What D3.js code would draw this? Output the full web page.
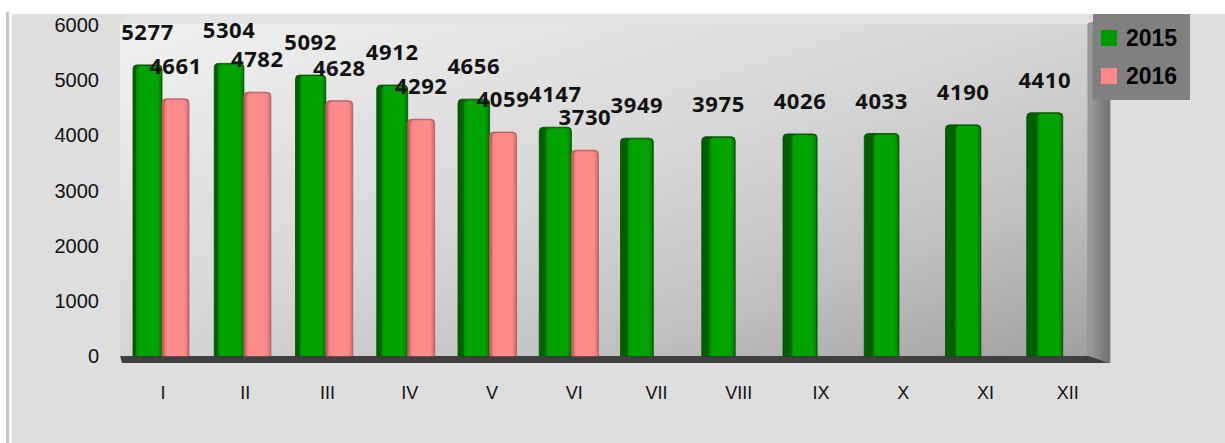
<!DOCTYPE html>
<html>
<head>
<meta charset="utf-8">
<script src="https://cdn.jsdelivr.net/npm/d3@7"></script>
<style>
  html, body { margin: 0; padding: 0; background: #ffffff; }
</style>
</head>
<body>
<div id="chart"></div>
<script>
// chart data
const months = ['I', 'II', 'III', 'IV', 'V', 'VI', 'VII', 'VIII', 'IX', 'X', 'XI', 'XII'];
const values2015 = [5277, 5304, 5092, 4912, 4656, 4147, 3949, 3975, 4026, 4033, 4190, 4410];
const values2016 = [4661, 4782, 4628, 4292, 4059, 3730];
const yTicks = [0, 1000, 2000, 3000, 4000, 5000, 6000];
const seriesNames = ['2015', '2016'];

const width = 1225;
const height = 443;
const wall = { left: 120, right: 1088, top: 24, bottom: 356 };
const depthX = 22, floorH = 7;

const svg = d3.select('#chart')
    .append('svg')
    .attr('width', width)
    .attr('height', height)
    .style('display', 'block');

const defs = svg.append('defs');

// background + frame
svg.append('rect').attr('width', width).attr('height', height).attr('fill', '#ffffff');
svg.append('rect')
    .attr('x', 12).attr('y', 14)
    .attr('width', width - 12).attr('height', height - 14)
    .attr('fill', '#dedede');
svg.append('rect')
    .attr('x', 6).attr('y', 12)
    .attr('width', 3).attr('height', height - 12)
    .attr('fill', '#c6c6c6');

// gradients
const wallGrad = defs.append('linearGradient').attr('id', 'wallGrad')
    .attr('x1', 0).attr('y1', 0).attr('x2', 1).attr('y2', 1);
wallGrad.append('stop').attr('offset', '0%').attr('stop-color', '#f2f2f2');
wallGrad.append('stop').attr('offset', '50%').attr('stop-color', '#d5d5d5');
wallGrad.append('stop').attr('offset', '75%').attr('stop-color', '#c0c0c0');
wallGrad.append('stop').attr('offset', '100%').attr('stop-color', '#a0a0a0');

const sideGrad = defs.append('linearGradient').attr('id', 'sideGrad')
    .attr('x1', 0).attr('y1', 0).attr('x2', 1).attr('y2', 0);
sideGrad.append('stop').attr('offset', '0%').attr('stop-color', '#a0a0a0');
sideGrad.append('stop').attr('offset', '100%').attr('stop-color', '#6e6e6e');

const makeFace = (id, edge, mid, right) => {
    const g = defs.append('linearGradient').attr('id', id)
        .attr('x1', 0).attr('y1', 0).attr('x2', 1).attr('y2', 0);
    g.append('stop').attr('offset', '0%').attr('stop-color', edge);
    g.append('stop').attr('offset', '12%').attr('stop-color', mid);
    g.append('stop').attr('offset', '85%').attr('stop-color', mid);
    g.append('stop').attr('offset', '100%').attr('stop-color', right);
};
makeFace('greenFace', '#008a00', '#00a300', '#008000');
makeFace('pinkFace', '#f07a7a', '#ff8a8a', '#d86c6c');

// 3D walls
svg.append('polygon')
    .attr('points', [[wall.left + 8, 14], [wall.right + depthX - 20, 14], [wall.right, wall.top], [wall.left, wall.top]].join(' '))
    .attr('fill', '#e4e4e4');
svg.append('rect')
    .attr('x', wall.left).attr('y', wall.top)
    .attr('width', wall.right - wall.left).attr('height', wall.bottom - wall.top)
    .attr('fill', 'url(#wallGrad)');
svg.append('polygon')
    .attr('points', [[wall.right, wall.top], [wall.right + depthX, 17], [wall.right + depthX, wall.bottom + floorH], [wall.right, wall.bottom]].join(' '))
    .attr('fill', 'url(#sideGrad)')
    .attr('stroke', '#8a8a8a')
    .attr('stroke-width', 1);
svg.append('polygon')
    .attr('points', [[wall.left, wall.bottom], [wall.right, wall.bottom], [wall.right + depthX, wall.bottom + floorH], [wall.left + 2, wall.bottom + floorH]].join(' '))
    .attr('fill', '#404040');

// scales
const x = d3.scaleBand()
    .domain(months)
    .range([122, 1109])
    .padding(0);

const y = d3.scaleLinear()
    .domain([0, 6000])
    .range([wall.bottom, 25]);

// perspective: side faces get wider to the right
const t = d3.scaleLinear().domain([0, months.length - 1]).range([0, 1]);

// y tick labels
svg.selectAll('.y-label')
    .data(yTicks)
    .enter()
    .append('text')
    .attr('class', 'y-label')
    .text(d => d)
    .attr('x', 99)
    .attr('y', d => y(d))
    .attr('text-anchor', 'end')
    .attr('dominant-baseline', 'central')
    .style('font-family', 'Liberation Sans, Arial, sans-serif')
    .style('font-size', '20px')
    .style('fill', '#111');

// category labels
svg.selectAll('.x-label')
    .data(months)
    .enter()
    .append('text')
    .attr('class', 'x-label')
    .text(d => d)
    .attr('x', d => x(d) + x.bandwidth() / 2)
    .attr('y', 393)
    .attr('text-anchor', 'middle')
    .attr('dominant-baseline', 'central')
    .style('font-family', 'Liberation Sans, Arial, sans-serif')
    .style('font-size', '18px')
    .style('fill', '#111');

const roundTop = (x0, y0, w, h, r) =>
    `M${x0},${y0 + h} L${x0},${y0 + r} Q${x0},${y0} ${x0 + r},${y0} L${x0 + w - r},${y0} Q${x0 + w},${y0} ${x0 + w},${y0 + r} L${x0 + w},${y0 + h} Z`;

// bar geometry
const bars = [];
months.forEach((m, i) => {
    const k = t(i);
    const gx = x(m) + 11 * (1 - k);
    const gw = 29 + 7 * k;
    bars.push({ series: 0, month: m, value: values2015[i], x0: gx, w: gw, side: 3 + 7.5 * k });
    if (i < values2016.length) {
        bars.push({ series: 1, month: m, value: values2016[i], x0: gx + gw, w: 27, side: 2.5 });
    }
});

const barG = svg.selectAll('.bar')
    .data(bars)
    .enter()
    .append('g')
    .attr('class', 'bar');

// side (dark) part
barG.append('path')
    .attr('d', d => roundTop(d.x0, y(d.value), d.w, wall.bottom - y(d.value), 4))
    .attr('fill', d => d.series === 0 ? '#006000' : '#c46464')
    .attr('stroke', d => d.series === 0 ? '#005000' : '#b25a5a')
    .attr('stroke-width', 0.8);

// front face
barG.append('path')
    .attr('d', d => roundTop(d.x0 + d.side, y(d.value) + 1, d.w - d.side - 0.8, wall.bottom - y(d.value) - 1, 4))
    .attr('fill', d => d.series === 0 ? 'url(#greenFace)' : 'url(#pinkFace)');

// value labels
svg.selectAll('.value-label')
    .data(bars)
    .enter()
    .append('text')
    .attr('class', 'value-label')
    .text(d => d.value)
    .attr('x', d => d.x0 + d.w / 2)
    .attr('y', d => y(d.value) - 25)
    .attr('text-anchor', 'middle')
    .style('font-family', 'Open Sans, sans-serif')
    .style('font-weight', 700)
    .style('font-size', '22px')
    .style('letter-spacing', '0.6px')
    .style('fill', '#111');

// legend
const legend = svg.append('g').attr('transform', 'translate(1093,14)');
legend.append('rect')
    .attr('width', 97).attr('height', 86)
    .attr('fill', '#808080');
const legendColors = ['#009a00', '#ff8888'];
const item = legend.selectAll('.legend-item')
    .data(seriesNames)
    .enter()
    .append('g')
    .attr('transform', (d, i) => `translate(8,${16 + i * 38})`);
item.append('rect')
    .attr('width', 16).attr('height', 16)
    .attr('fill', (d, i) => legendColors[i]);
item.append('text')
    .text(d => d)
    .attr('x', 25)
    .attr('y', 16)
    .style('font-family', 'Liberation Sans, Arial, sans-serif')
    .style('font-weight', 700)
    .style('font-size', '23px')
    .style('fill', '#000');
</script>
</body>
</html>
